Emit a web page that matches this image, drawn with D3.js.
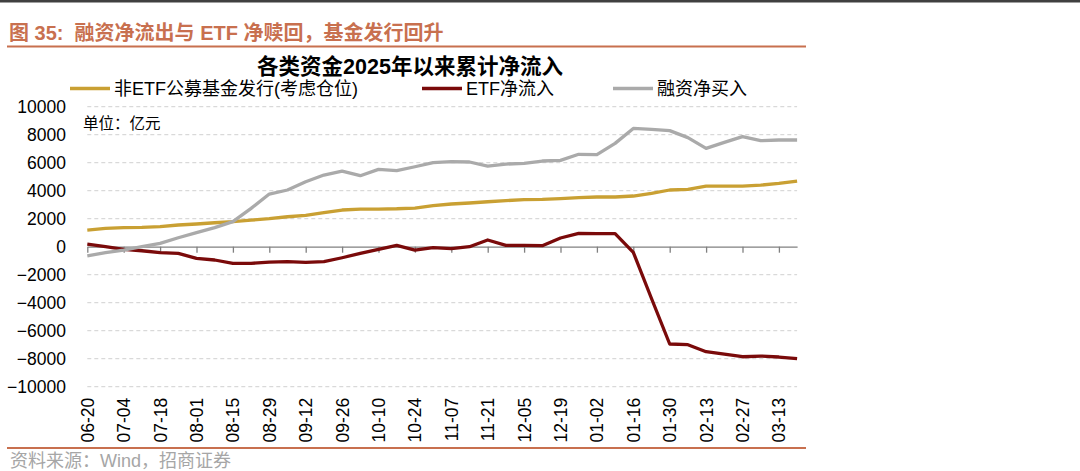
<!DOCTYPE html>
<html>
<head>
<meta charset="utf-8">
<script src="https://cdn.jsdelivr.net/npm/d3@7"></script>
<style>
  body { margin: 0; background: #fff; }
  svg { display: block; font-family: "Liberation Sans", Arial, "Noto Sans CJK SC", sans-serif; }
</style>
</head>
<body>
<svg id="chart"></svg>
<script>
// weekly dates, 2025-06-20 .. 2026-03-20
const dates = [
  '06-20', '06-27', '07-04', '07-11', '07-18', '07-25', '08-01', '08-08',
  '08-15', '08-22', '08-29', '09-05', '09-12', '09-19', '09-26', '10-03',
  '10-10', '10-17', '10-24', '10-31', '11-07', '11-14', '11-21', '11-28',
  '12-05', '12-12', '12-19', '12-26', '01-02', '01-09', '01-16', '01-23',
  '01-30', '02-06', '02-13', '02-20', '02-27', '03-06', '03-13', '03-20'
];

// 非ETF公募基金发行(考虑仓位)
const fundIssue = [
  1190, 1310, 1360, 1380, 1430, 1550, 1620, 1710, 1790, 1900,
  2000, 2140, 2240, 2430, 2620, 2690, 2690, 2710, 2760, 2930,
  3050, 3120, 3210, 3290, 3360, 3380, 3430, 3500, 3550, 3550,
  3620, 3810, 4050, 4100, 4330, 4330, 4330, 4400, 4520, 4690
];

// ETF净流入
const etfFlow = [
  190, 0, -190, -290, -430, -480, -830, -950, -1190, -1190,
  -1100, -1070, -1120, -1070, -790, -480, -190, 100, -240, -70,
  -140, 0, 480, 95, 95, 70, 620, 950, 930, 930,
  -400, -3700, -6950, -7000, -7500, -7670, -7860, -7810, -7880, -8000
];

// 融资净买入
const marginBuy = [
  -650, -430, -240, 0, 240, 640, 1000, 1360, 1790, 2740,
  3760, 4050, 4640, 5120, 5400, 5070, 5520, 5430, 5710, 6000,
  6070, 6050, 5760, 5900, 5950, 6120, 6170, 6600, 6570, 7380,
  8450, 8380, 8290, 7790, 7020, 7450, 7860, 7570, 7620, 7620
];

const yTicks = [10000, 8000, 6000, 4000, 2000, 0, -2000, -4000, -6000, -8000, -10000];

const series = [
  { name: '非ETF公募基金发行(考虑仓位)', values: fundIssue, color: '#C9A033', legendX: 70 },
  { name: 'ETF净流入', values: etfFlow, color: '#7A0A0A', legendX: 422 },
  { name: '融资净买入', values: marginBuy, color: '#AAAAAA', legendX: 613 }
];

const W = 1080, H = 471;
const plot = { left: 87.3, right: 797.1, top: 106.7, bottom: 386.7 };

const svg = d3.select('#chart').attr('width', W).attr('height', H);

// page frame lines
svg.append('line')
  .attr('x1', 0).attr('x2', W).attr('y1', 1.2).attr('y2', 1.2)
  .attr('stroke', '#404040').attr('stroke-width', 2.5);
svg.append('line')
  .attr('x1', 7).attr('x2', 806).attr('y1', 46.5).attr('y2', 46.5)
  .attr('stroke', '#C8704F').attr('stroke-width', 2.2);
svg.append('line')
  .attr('x1', 7).attr('x2', 806).attr('y1', 448).attr('y2', 448)
  .attr('stroke', '#C8704F').attr('stroke-width', 2.2);

// figure caption
svg.append('text')
  .attr('x', 9).attr('y', 33)
  .attr('dominant-baseline', 'central')
  .attr('fill', '#C8704F')
  .attr('font-size', 20).attr('font-weight', 'bold')
  .attr('xml:space', 'preserve')
  .text('图 35:  融资净流出与 ETF 净赎回，基金发行回升');

// source
svg.append('text')
  .attr('x', 10).attr('y', 461)
  .attr('dominant-baseline', 'central')
  .attr('fill', '#A6A6A6')
  .attr('font-size', 18)
  .text('资料来源：Wind，招商证券');

// chart title
svg.append('text')
  .attr('x', 410).attr('y', 67)
  .attr('dominant-baseline', 'central')
  .attr('text-anchor', 'middle')
  .attr('fill', '#000')
  .attr('font-size', 21.5).attr('font-weight', 'bold')
  .text('各类资金2025年以来累计净流入');

// legend
const legend = svg.append('g').attr('class', 'legend');
series.forEach(s => {
  legend.append('line')
    .attr('x1', s.legendX).attr('x2', s.legendX + 40)
    .attr('y1', 88.5).attr('y2', 88.5)
    .attr('stroke', s.color).attr('stroke-width', 3.5);
  legend.append('text')
    .attr('x', s.legendX + 44).attr('y', 88.5)
    .attr('dominant-baseline', 'central')
    .attr('font-size', 18).attr('fill', '#000')
    .text(s.name);
});

// scales
const x = d3.scalePoint().domain(dates).range([plot.left, plot.right]);
const y = d3.scaleLinear().domain([-10000, 10000]).range([plot.bottom, plot.top]);

// dashed gridlines
svg.append('g')
  .selectAll('line')
  .data(yTicks.filter(d => d !== 0))
  .enter()
  .append('line')
  .attr('x1', plot.left).attr('x2', plot.right)
  .attr('y1', d => y(d)).attr('y2', d => y(d))
  .attr('stroke', '#D0D0D0').attr('stroke-width', 1)
  .attr('stroke-dasharray', '4,3');

// y axis labels
const yAxis = svg.append('g')
  .attr('transform', 'translate(66,0)')
  .call(d3.axisLeft(y).tickValues(yTicks).tickSize(0).tickPadding(0).tickFormat(d3.format('d')));
yAxis.select('.domain').remove();
yAxis.selectAll('text')
  .attr('font-size', 17.5)
  .attr('fill', '#000')
  .attr('font-family', '"Liberation Sans", Arial, sans-serif');

// zero axis with ticks
const labelDates = dates.filter((d, i) => i % 2 === 0);
const zeroAxis = svg.append('g')
  .attr('transform', `translate(0,${y(0)})`)
  .call(d3.axisBottom(x).tickValues(labelDates).tickSizeInner(6).tickSizeOuter(0).tickFormat(''));
zeroAxis.select('.domain').attr('stroke', '#808080').attr('stroke-width', 1.3);
zeroAxis.selectAll('.tick line').attr('stroke', '#808080').attr('stroke-width', 1.3);

// x labels at the bottom, rotated
const xLabels = svg.append('g')
  .attr('transform', `translate(0,${plot.bottom + 11})`)
  .call(d3.axisBottom(x).tickValues(labelDates).tickSize(0).tickPadding(0));
xLabels.select('.domain').remove();
xLabels.selectAll('text')
  .attr('font-size', 17.5)
  .attr('fill', '#000')
  .attr('font-family', '"Liberation Sans", Arial, sans-serif')
  .attr('text-anchor', 'end')
  .attr('dominant-baseline', 'central')
  .attr('dy', null)
  .attr('y', 0)
  .attr('transform', 'rotate(-90)');

// unit label
svg.append('text')
  .attr('x', 83).attr('y', 123.5)
  .attr('dominant-baseline', 'central')
  .attr('font-size', 15.5).attr('fill', '#000')
  .text('单位：亿元');

// lines
const line = d3.line()
  .x((d, i) => x(dates[i]))
  .y(d => y(d));

svg.append('g')
  .selectAll('path')
  .data(series)
  .enter()
  .append('path')
  .attr('d', d => line(d.values))
  .attr('fill', 'none')
  .attr('stroke', d => d.color)
  .attr('stroke-width', 3.3)
  .attr('stroke-linejoin', 'round');
</script>
</body>
</html>
